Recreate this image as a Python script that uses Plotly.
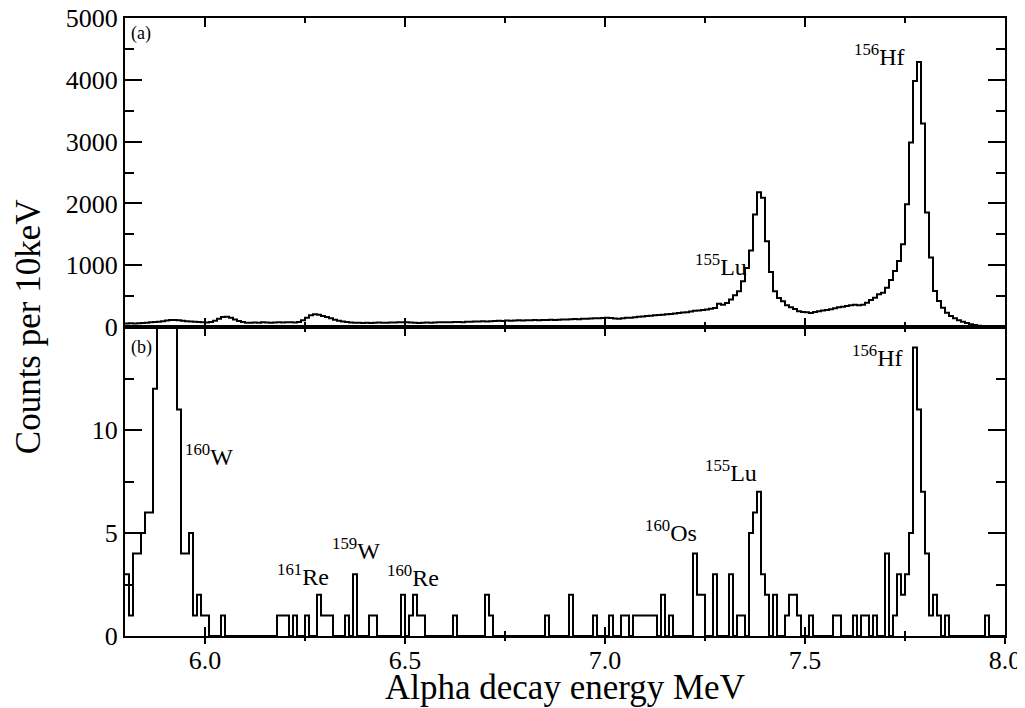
import numpy as np
import plotly.graph_objects as go

# ---- data: counts per 10 keV bin, bins starting at 5.80 MeV ----
E_START = 5.80
BIN_WIDTH = 0.01
N_BINS = 220

# panel (a): all alpha events
counts_a = [
    55, 60, 58, 62, 65, 70, 75, 80, 86, 95,
    105, 113, 115, 110, 100, 95, 90, 85, 82, 78,
    72, 80, 100, 135, 162, 165, 150, 120, 97, 80,
    70, 68, 72, 70, 75, 72, 70, 74, 76, 72,
    75, 78, 74, 80, 110, 150, 190, 205, 200, 180,
    160, 140, 118, 100, 88, 80, 72, 70, 68, 66,
    68, 65, 70, 72, 68, 70, 74, 72, 75, 78,
    75, 72, 70, 66, 68, 72, 70, 74, 76, 75,
    78, 76, 80, 82, 78, 85, 84, 88, 90, 92,
    88, 94, 96, 100, 98, 104, 102, 106, 108, 105,
    110, 108, 112, 110, 115, 113, 116, 112, 118, 120,
    122, 125, 128, 126, 132, 135, 138, 140, 142, 145,
    148, 146, 138, 135, 142, 150, 148, 158, 165, 170,
    178, 182, 190, 195, 200, 205, 212, 218, 225, 235,
    240, 250, 262, 268, 275, 285, 295, 308, 378, 362,
    389, 443, 513, 578, 740, 956, 1237, 1820, 2182, 2090,
    1388, 891, 578, 470, 416, 351, 319, 292, 254, 243,
    238, 227, 243, 254, 265, 275, 286, 302, 319, 329,
    340, 351, 362, 350, 360, 394, 437, 475, 529, 556,
    637, 761, 907, 1069, 1339, 1987, 2986, 3980, 4290, 3294,
    1852, 1123, 583, 421, 313, 232, 178, 140, 108, 86,
    65, 43, 32, 22, 16, 12, 10, 8, 6, 5,
]

# panel (b): correlated alpha events
counts_b = [
    3, 1, 4, 4, 5, 6, 6, 12, 20, 24,
    27, 23, 18, 11, 4, 4, 5, 1, 2, 1,
    1, 0, 0, 0, 1, 0, 0, 0, 0, 0,
    0, 0, 0, 0, 0, 0, 0, 0, 1, 1,
    1, 0, 1, 0, 0, 1, 0, 0, 2, 1,
    1, 1, 0, 0, 0, 1, 0, 3, 0, 0,
    0, 1, 1, 0, 0, 0, 0, 0, 0, 2,
    0, 1, 2, 1, 1, 0, 0, 0, 0, 0,
    0, 0, 1, 0, 0, 0, 0, 0, 0, 0,
    2, 1, 0, 0, 0, 0, 0, 0, 0, 0,
    0, 0, 0, 0, 0, 1, 0, 0, 0, 0,
    0, 2, 0, 0, 0, 0, 0, 1, 0, 0,
    0, 1, 0, 0, 1, 1, 0, 1, 1, 1,
    1, 1, 1, 0, 2, 0, 1, 0, 0, 0,
    0, 0, 4, 2, 2, 0, 0, 3, 0, 0,
    0, 3, 0, 1, 1, 0, 5, 6, 7, 3,
    2, 0, 2, 0, 0, 1, 2, 2, 1, 0,
    0, 1, 0, 0, 0, 0, 0, 1, 1, 0,
    0, 0, 1, 0, 1, 1, 0, 1, 0, 0,
    4, 0, 1, 3, 2, 3, 5, 14, 11, 7,
    4, 1, 2, 1, 0, 1, 0, 0, 0, 0,
    0, 0, 0, 0, 0, 1, 0, 0, 0, 0,
]

x_tick_vals = [6.0, 6.5, 7.0, 7.5, 8.0]
x_minor_vals = [6.25, 6.75, 7.25, 7.75]
ya_tick_vals = [0, 1000, 2000, 3000, 4000, 5000]
yb_tick_vals = [0, 5, 10]

# labels: (text, x, y) in data units
labels_a = [
    ("<sup>155</sup>Lu", 7.29, 1000),
    ("<sup>156</sup>Hf", 7.687, 4400),
]
labels_b = [
    ("<sup>160</sup>W", 6.01, 8.8),
    ("<sup>161</sup>Re", 6.245, 2.95),
    ("<sup>159</sup>W", 6.377, 4.2),
    ("<sup>160</sup>Re", 6.52, 2.9),
    ("<sup>160</sup>Os", 7.165, 5.1),
    ("<sup>155</sup>Lu", 7.315, 8.0),
    ("<sup>156</sup>Hf", 7.68, 13.6),
]

# ---- figure ----
edges = np.round(E_START + BIN_WIDTH * np.arange(N_BINS + 1), 2)
FONT = "Liberation Serif"
TICK_SIZE = 26
TITLE_SIZE = 35
LABEL_SIZE = 24

fig = go.Figure()
fig.add_trace(go.Scatter(x=edges, y=counts_a + [counts_a[-1]], mode="lines",
                         line=dict(shape="hv", color="black", width=2),
                         xaxis="x", yaxis="y", showlegend=False, hoverinfo="skip"))
fig.add_trace(go.Scatter(x=edges, y=counts_b + [counts_b[-1]], mode="lines",
                         line=dict(shape="hv", color="black", width=2),
                         xaxis="x2", yaxis="y2", showlegend=False, hoverinfo="skip"))
# invisible helper trace for the outward ticks on the bottom axis
fig.add_trace(go.Scatter(x=[edges[0]], y=[0], mode="markers", marker=dict(opacity=0),
                         xaxis="x3", yaxis="y2", showlegend=False, hoverinfo="skip"))

xr = [E_START, E_START + BIN_WIDTH * N_BINS]
common_x = dict(range=xr, showgrid=False, zeroline=False, showline=True, linewidth=2,
                linecolor="black", tickmode="array", tickvals=x_tick_vals,
                ticks="inside", ticklen=9, tickwidth=1.5, tickcolor="black",
                minor=dict(tickmode="array", tickvals=x_minor_vals,
                           ticks="inside", ticklen=5, tickwidth=1.5, tickcolor="black"),
                mirror="ticks", automargin=False, ticklabeloverflow="allow")

# the page body has an 8 px margin, so the figure is sized to fit 1025x708 with it
fig.update_layout(
    width=1017, height=700,
    margin=dict(l=117, r=20, t=10, b=72, autoexpand=False),
    paper_bgcolor="white", plot_bgcolor="white",
    font=dict(family=FONT, color="black"),
    xaxis=dict(common_x, anchor="y", domain=[0, 1], showticklabels=False),
    xaxis2=dict(common_x, anchor="y2", domain=[0, 1], showticklabels=True,
                tickformat=".1f", tickfont=dict(family=FONT, size=TICK_SIZE, color="black")),
    xaxis3=dict(range=xr, overlaying="x2", anchor="y2", side="bottom", showgrid=False,
                zeroline=False, showline=False, showticklabels=False, automargin=False,
                tickmode="array", tickvals=x_tick_vals, ticks="outside", ticklen=7,
                tickwidth=1.5, tickcolor="black",
                minor=dict(tickmode="array", tickvals=x_minor_vals,
                           ticks="outside", ticklen=4, tickwidth=1.5, tickcolor="black")),
    yaxis=dict(domain=[0.5, 1], range=[0, 5000], anchor="x", showgrid=False,
               zeroline=False, showline=True, linewidth=2, linecolor="black",
               tickmode="array", tickvals=ya_tick_vals, ticks="inside", ticklen=17,
               tickwidth=1.5, tickcolor="black", mirror="ticks", automargin=False,
               ticklabeloverflow="allow",
               minor=dict(dtick=500, tick0=0, ticks="inside", ticklen=9,
                          tickwidth=1.5, tickcolor="black"),
               tickfont=dict(family=FONT, size=TICK_SIZE, color="black")),
    yaxis2=dict(domain=[0, 0.5], range=[0, 15], anchor="x2", showgrid=False,
                zeroline=False, showline=True, linewidth=2, linecolor="black",
                tickmode="array", tickvals=yb_tick_vals, ticks="inside", ticklen=17,
                tickwidth=1.5, tickcolor="black", mirror="ticks", automargin=False,
                ticklabeloverflow="allow",
                minor=dict(dtick=2.5, tick0=0, ticks="inside", ticklen=9,
                           tickwidth=1.5, tickcolor="black"),
                tickfont=dict(family=FONT, size=TICK_SIZE, color="black")),
)

annotations = []
for text, x, y in labels_a:
    annotations.append(dict(text=text, x=x, y=y, xref="x", yref="y", showarrow=False,
                            font=dict(family=FONT, size=LABEL_SIZE, color="black")))
for text, x, y in labels_b:
    annotations.append(dict(text=text, x=x, y=y, xref="x2", yref="y2", showarrow=False,
                            font=dict(family=FONT, size=LABEL_SIZE, color="black")))
annotations.append(dict(text="(a)", x=5.84, y=4750, xref="x", yref="y", showarrow=False,
                        font=dict(family=FONT, size=18, color="black")))
annotations.append(dict(text="(b)", x=5.84, y=14.0, xref="x2", yref="y2", showarrow=False,
                        font=dict(family=FONT, size=18, color="black")))
annotations.append(dict(text="Counts per 10keV", x=-0.11, y=0.5, xref="paper", yref="paper",
                        textangle=-90, showarrow=False, xanchor="center", yanchor="middle",
                        font=dict(family=FONT, size=TITLE_SIZE, color="black")))
annotations.append(dict(text="Alpha decay energy MeV", x=0.5, y=-0.083, xref="paper",
                        yref="paper", showarrow=False, xanchor="center", yanchor="middle",
                        font=dict(family=FONT, size=TITLE_SIZE, color="black")))
fig.update_layout(annotations=annotations)

fig.write_html("out.html")
